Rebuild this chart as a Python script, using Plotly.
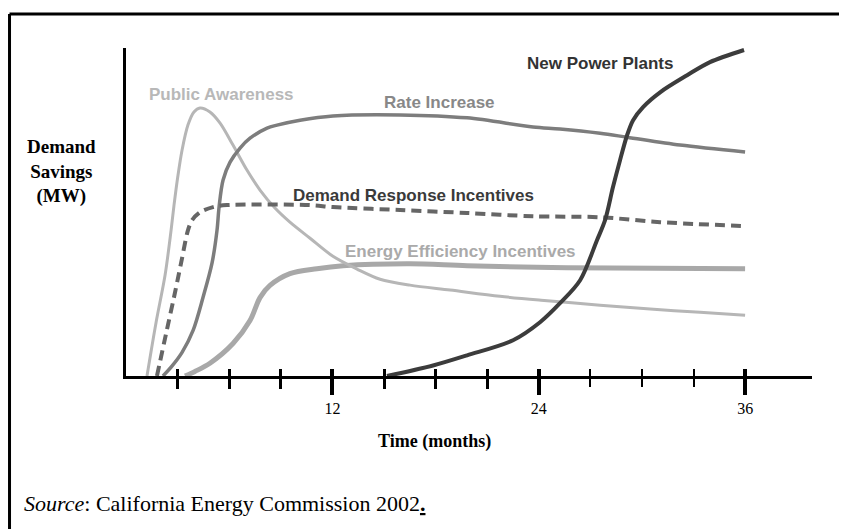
import plotly.graph_objects as go

# ---- data (months, relative demand savings 0-100) ----
pa_x = [1.22, 1.74, 2.27, 2.62, 2.79, 3.02, 3.26, 3.60, 3.95, 4.30, 4.88, 5.47, 6.22, 7.03,
        7.79, 8.66, 9.53, 10.70, 12.03, 13.43, 14.77, 16.51, 18.84, 21.74, 24.13, 27.56, 30.47, 33.37, 35.99]
pa_y = [0, 16.1, 30.7, 44.4, 52.0, 61.1, 68.9, 76.5, 80.5, 81.7, 80.5, 77.1, 70.4, 62.8,
        56.7, 51.2, 46.9, 42.0, 36.5, 32.6, 29.5, 27.7, 26.2, 24.3, 23.1, 21.6, 20.4, 19.4, 18.5]

ri_x = [2.15, 2.67, 3.26, 3.90, 4.48, 5.00, 5.29, 5.41, 5.64, 6.05, 6.63, 7.21, 8.20, 8.78, 10.12, 12.03,
        15.93, 19.83, 23.66, 25.23, 27.56, 29.13, 32.21, 35.99]
ri_y = [0, 3.0, 7.2, 13.9, 24.0, 34.4, 44.4, 51.5, 59.7, 65.2, 69.5, 72.5, 75.6, 76.5, 78.0, 79.3,
        79.6, 78.7, 75.9, 75.3, 74.0, 72.8, 70.4, 68.3]

dr_x = [1.80, 2.37, 2.79, 3.20, 3.60, 3.84, 4.30, 5.06, 5.87, 10.70, 12.03, 15.93, 19.83,
        23.66, 27.56, 31.05, 35.99]
dr_y = [0, 13.9, 24.0, 34.4, 44.4, 47.5, 49.9, 51.5, 52.1, 52.1, 51.5, 50.6, 49.7,
        48.7, 48.4, 46.9, 45.7]

ee_x = [3.43, 4.01, 4.88, 6.22, 7.21, 7.79, 8.37, 9.53, 11.10, 12.62, 16.51, 19.83, 25.64, 35.99]
ee_y = [0, 1.4, 3.9, 9.9, 16.9, 23.9, 27.6, 31.2, 32.7, 33.6, 34.2, 33.6, 33.0, 32.7]

np_x = [15.17, 17.85, 19.83, 22.50, 24.07, 25.23, 26.40, 27.38, 27.85, 28.31, 28.72, 29.13,
        29.48, 30.06, 31.05, 32.62, 33.95, 35.93]
np_y = [0, 3.2, 6.3, 10.9, 16.4, 22.2, 29.2, 41.4, 47.5, 57.6, 65.8, 73.4,
        78.0, 82.0, 86.5, 91.7, 95.7, 99.4]

major_ticks = [12, 24, 36]
major_labels = ["12", "24", "36"]
minor_ticks_thick = [3, 6, 9, 15, 18, 21]
minor_ticks_thin = [27, 30, 33]

SANS = "Liberation Sans, Arial, sans-serif"
SERIF = "Liberation Serif, Times New Roman, serif"

fig = go.Figure()

def add_line(x, y, color, width, dash="solid"):
    fig.add_trace(go.Scatter(x=x, y=y, mode="lines",
                             line=dict(color=color, width=width, dash=dash, shape="spline", smoothing=0.9),
                             hoverinfo="skip", showlegend=False))

add_line(ee_x, ee_y, "#a8a8a8", 5)
add_line(pa_x, pa_y, "#b6b6b6", 3)
add_line(ri_x, ri_y, "#7d7d7d", 3.5)
add_line(dr_x, dr_y, "#666666", 4, dash="10px,6px")
add_line(np_x, np_y, "#3c3c3c", 4)

# overlay axes carrying the remaining tick marks
for ax in ["x2", "x3", "x4"]:
    fig.add_trace(go.Scatter(x=[0], y=[0], xaxis=ax, yaxis="y", mode="lines",
                             line=dict(width=0), hoverinfo="skip", showlegend=False))

labels = [
    ("Public Awareness", 5.58, 85.7, "#b8b8b8", "center"),
    ("Rate Increase", 18.2, 83.5, "#888888", "center"),
    ("Demand Response Incentives", 16.72, 55.1, "#3a3a3a", "center"),
    ("Energy Efficiency Incentives", 19.45, 38.0, "#aaaaaa", "center"),
    ("New Power Plants", 31.92, 95.4, "#333333", "right"),
]
for text, lx, ly, col, anchor in labels:
    fig.add_annotation(x=lx, y=ly, xref="x", yref="y", text="<b>%s</b>" % text, showarrow=False,
                       xanchor=anchor, yanchor="middle", font=dict(family=SANS, size=17, color=col))

fig.add_annotation(x=-0.0933, y=0.625, xref="paper", yref="paper",
                   text="<b>Demand<br>Savings<br>(MW)</b>", showarrow=False, align="center",
                   xanchor="center", yanchor="middle", font=dict(family=SERIF, size=19, color="black"))
fig.add_annotation(x=0.449, y=-0.201, xref="paper", yref="paper", text="<b>Time (months)</b>",
                   showarrow=False, xanchor="center", yanchor="middle",
                   font=dict(family=SERIF, size=18, color="black"))
fig.add_annotation(x=-0.1516, y=-0.39, xref="paper", yref="paper",
                   text="<i>Source</i>: California Energy Commission 2002<b><u>.</u></b>",
                   showarrow=False, xanchor="left", yanchor="middle",
                   font=dict(family=SERIF, size=22, color="black"))

# outer frame (top and left edges)
fig.add_shape(type="line", xref="paper", yref="paper", x0=-0.1698, x1=1.08, y0=1.1037, y1=1.1037,
              line=dict(color="black", width=3))
fig.add_shape(type="line", xref="paper", yref="paper", x0=-0.1698, x1=-0.1698, y0=1.1037, y1=-0.48,
              line=dict(color="black", width=3))

xr = [0, 39.88]
hidden = dict(range=xr, overlaying="x", matches="x", anchor="y", side="bottom", showline=False,
              showgrid=False, zeroline=False, showticklabels=False, tickcolor="black")
fig.update_layout(
    width=839, height=521,
    margin=dict(l=118, r=35, t=40, b=153),
    paper_bgcolor="white", plot_bgcolor="white",
    showlegend=False,
    xaxis=dict(range=xr, showline=True, linecolor="black", linewidth=3, showgrid=False, zeroline=False,
               tickmode="array", tickvals=major_ticks, ticktext=major_labels,
               ticks="outside", ticklen=16, tickwidth=4, tickcolor="black",
               tickfont=dict(family=SERIF, size=16, color="black"),
               minor=dict(tickmode="array", tickvals=minor_ticks_thick, ticks="outside", ticklen=10,
                          tickwidth=3, tickcolor="black", showgrid=False)),
    xaxis2=dict(hidden, tickmode="array", tickvals=major_ticks, ticks="inside", ticklen=7, tickwidth=4,
                minor=dict(tickmode="array", tickvals=minor_ticks_thick, ticks="inside", ticklen=7,
                           tickwidth=3, tickcolor="black", showgrid=False)),
    xaxis3=dict(hidden, tickmode="array", tickvals=minor_ticks_thin, ticks="outside", ticklen=10,
                tickwidth=1.6),
    xaxis4=dict(hidden, tickmode="array", tickvals=minor_ticks_thin, ticks="inside", ticklen=7,
                tickwidth=1.6),
    yaxis=dict(range=[0, 100], showline=True, linecolor="black", linewidth=3, showgrid=False,
               zeroline=False, showticklabels=False, ticks=""),
)

fig.write_html("out.html")
